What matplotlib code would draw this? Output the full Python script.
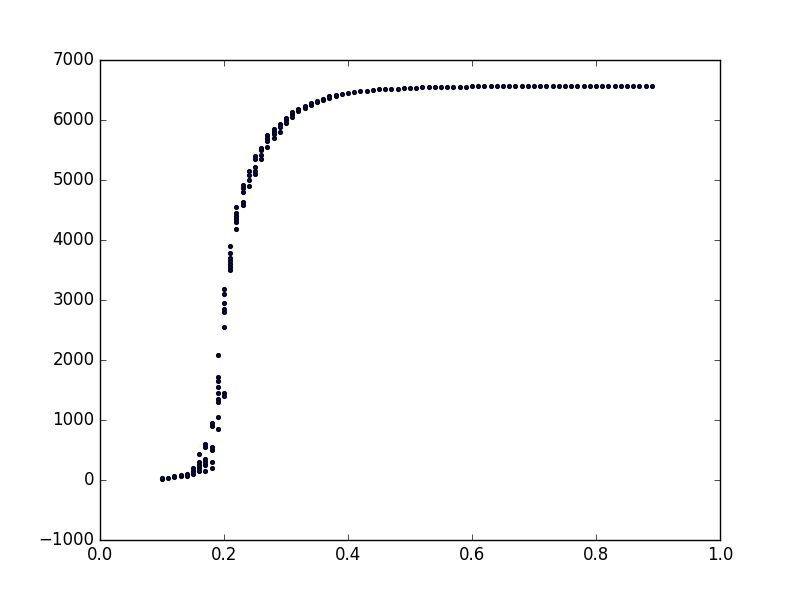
import matplotlib
matplotlib.use('Agg')
import matplotlib.pyplot as plt

plt.style.use('classic')

# x values step by 0.01, several samples per step in the steep part
x_steps = [0.10, 0.11, 0.12, 0.13, 0.14, 0.15, 0.16, 0.17, 0.18, 0.19,
           0.20, 0.21, 0.22, 0.23, 0.24, 0.25, 0.26, 0.27, 0.28, 0.29,
           0.30, 0.31, 0.32, 0.33, 0.34, 0.35, 0.36, 0.37, 0.38, 0.39,
           0.40, 0.41, 0.42, 0.43, 0.44, 0.45, 0.46, 0.47, 0.48, 0.49,
           0.50, 0.51, 0.52, 0.53, 0.54, 0.55, 0.56, 0.57, 0.58, 0.59,
           0.60, 0.61, 0.62, 0.63, 0.64, 0.65, 0.66, 0.67, 0.68, 0.69,
           0.70, 0.71, 0.72, 0.73, 0.74, 0.75, 0.76, 0.77, 0.78, 0.79,
           0.80, 0.81, 0.82, 0.83, 0.84, 0.85, 0.86, 0.87, 0.88, 0.89]

y_groups = [
    [20, 40], [30], [50, 70], [60, 80], [70, 100],
    [100, 150, 200], [150, 200, 250, 300, 430],
    [150, 250, 300, 350, 550, 600],
    [200, 300, 500, 550, 900, 950],
    [850, 1050, 1300, 1350, 1450, 1550, 1650, 1720, 2080],
    [1400, 1450, 2550, 2800, 2850, 2950, 3100, 3180],
    [3500, 3550, 3600, 3650, 3700, 3780, 3900],
    [4180, 4300, 4350, 4400, 4450, 4550],
    [4580, 4630, 4800, 4870, 4920],
    [4900, 5000, 5080, 5150],
    [5100, 5150, 5220, 5350, 5400],
    [5350, 5420, 5500, 5530],
    [5550, 5650, 5700, 5750],
    [5700, 5760, 5800, 5850],
    [5800, 5880, 5930],
    [5950, 6000, 6030],
    [6050, 6100, 6130],
    [6150, 6180],
    [6200, 6230],
    [6250, 6280],
    [6300, 6320],
    [6330, 6350],
    [6370, 6400],
    [6400, 6420],
    [6430], [6450], [6470], [6480], [6490], [6500], [6510], [6515],
    [6520], [6525], [6530], [6535], [6540], [6545], [6548], [6550],
    [6552], [6555], [6556], [6557], [6558], [6559], [6560], [6560],
    [6560], [6560], [6560], [6560], [6560], [6560], [6560], [6560],
    [6560], [6560], [6560], [6560], [6560], [6560], [6560], [6560],
    [6560], [6560], [6560], [6560], [6560], [6560], [6560], [6560],
    [6560], [6560], [6560],
]

xs = []
ys = []
for xv, group in zip(x_steps, y_groups):
    for yv in group:
        xs.append(xv)
        ys.append(yv)

fig, ax = plt.subplots(figsize=(8, 6), dpi=100)
ax.plot(xs, ys, 'b.', mec='k', mew=1.2, ms=5, linestyle='none')
ax.set_xlim(0, 1)
ax.set_ylim(-1000, 7000)

fig.savefig('out.png', dpi=100)
